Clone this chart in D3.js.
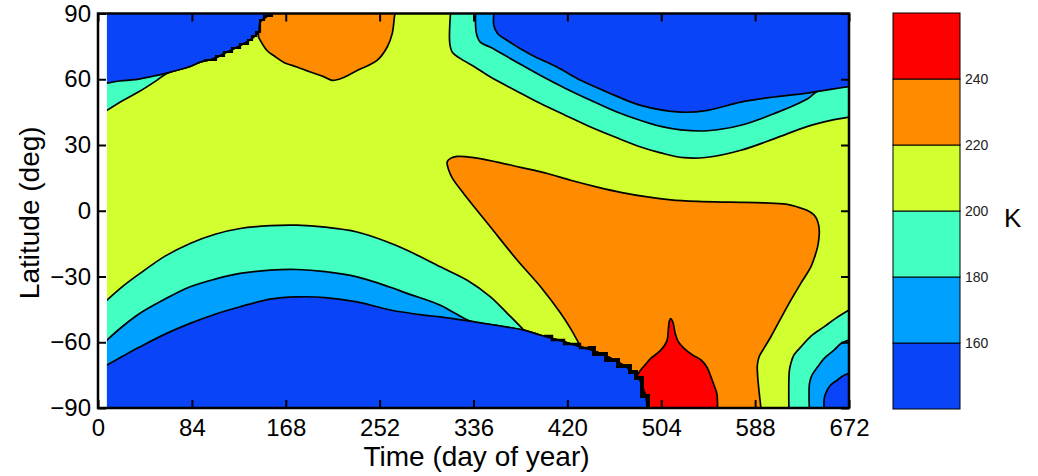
<!DOCTYPE html>
<html>
<head>
<meta charset="utf-8">
<script src="https://cdn.jsdelivr.net/npm/d3@7"></script>
<style>
body { margin: 0; background: #fff; }
svg text { font-family: "Liberation Sans", Arial, Helvetica, sans-serif; }
</style>
</head>
<body>
<div id="chart"></div>
<script>
// temperature levels (K), one colour per band between two levels
var levels = [140, 160, 180, 200, 220, 240, 260];
var bandColors = ["#0a44f8", "#00a0ff", "#44ffc2", "#d2ff30", "#ff8c00", "#ff0000"];
var dayTicks = [0, 84, 168, 252, 336, 420, 504, 588, 672];
var latTicks = [-90, -60, -30, 0, 30, 60, 90];
var cbarTicks = [160, 180, 200, 220, 240];
var firstDay = 8;

// contour lines, as [day, latitude]
var n160West = [[8,58.2],[19.7,59.2],[33.2,59.8],[46.6,61.1],[61.6,62.8],[82.4,65.8],[91.4,67.8],[103.3,69.4],[115.3,72.4],[130.2,76.2],[139.2,79.2],[143.6,81.5],[145.2,86],[152.6,89.1],[155.9,90]];
var n200West = [[8,45.8],[22.7,50.4],[37.6,54.6],[52.6,59.5],[61.6,62.6]];
var northWarm = [[143.6,79.2],[151.2,73.1],[158,70.5],[166,67.8],[178,65.6],[190,63.3],[201.9,61.2],[209.4,59.5],[219.8,60.8],[231.8,64],[249.7,68.6],[258.7,74.6],[263.2,80.7],[265.2,88.3],[265.7,90]];
var n200East = [[315.4,90],[314.8,76.2],[317.2,72.2],[324.4,69.4],[337.8,65.4],[351.2,61],[373.6,54.9],[396,48.9],[418.4,43.5],[440.8,38.2],[463.2,33.5],[485.6,29.1],[503.6,26.4],[524.2,24.2],[545.4,24.4],[575.2,27.6],[604.8,32.8],[635,38.5],[655.6,41.2],[672,42.7]];
var n180East = [[337.8,90],[338.7,80.7],[342.3,76.8],[351.2,74.6],[373.6,68.1],[396,61.7],[418.4,55.8],[440.8,50.4],[463.2,45.3],[485.6,41.2],[503.6,38.5],[521.5,36.9],[545.4,36.5],[575.2,39],[605,44.3],[635,51.1],[644,54.5],[672,56.7]];
var n160East = [[354.2,90],[354.2,84.5],[357.5,80.9],[366.2,77.7],[387.1,71.3],[411,65.5],[431.9,59.5],[455.8,54.1],[485.6,48.1],[521.5,45],[545.4,45.8],[575.2,49.6],[605,51.9],[635,53.7],[644,54.5],[672,56.7]];
var s160West = [[8,-70.4],[22.4,-66.3],[37.6,-62.1],[60,-56.3],[82.4,-51.4],[104.8,-47.2],[127.2,-43.8],[154.1,-40.3],[178,-39.3],[203.4,-39.6],[231.8,-41.6],[261.6,-45.3],[291.5,-47.6],[306.4,-48.4],[333.3,-50.4],[360.2,-52.6],[381.1,-54.5],[396,-56.8],[413.9,-59.3],[431.9,-62.1],[449.8,-65.1],[464.8,-68.9],[476.7,-72.7],[484.1,-76.5],[487.2,-80.3],[490.1,-84.9],[491.6,-90]];
var s180West = [[8,-59],[22.4,-52.6],[37.6,-46.8],[60,-40.3],[82.4,-34.7],[104.8,-31.2],[127.2,-28.6],[154.1,-27.1],[178,-26.8],[203.4,-27.8],[231.8,-30.2],[261.6,-34.9],[276.6,-37.7],[306.4,-43.1],[319.9,-46.9],[333.3,-50.4]];
var s200West = [[8,-40.8],[22.4,-34.4],[37.6,-28.6],[60,-20.7],[82.4,-14.9],[104.8,-10.7],[127.2,-8.1],[154.1,-6.8],[178,-6.6],[203.4,-7.5],[231.8,-9.7],[257.3,-13.9],[276.6,-18],[306.4,-25.6],[330.4,-31.7],[351.2,-39.3],[366.2,-46.8],[379.6,-53.7]];
var southWarm = [[431.9,-62.1],[422.9,-53.8],[414,-46.8],[396,-34.7],[375.2,-22.6],[351.2,-7.4],[327.3,7.8],[317.2,14.8],[313.9,18.5],[312.4,22.2],[315.4,23.9],[321.4,24.8],[337.8,24.1],[357.2,22.2],[378.1,19.8],[402.1,17],[422.9,13.9],[446.8,10.8],[467.7,8.4],[491.6,6.3],[512.5,5],[536.4,4.3],[566.3,3.9],[596.1,3.6],[615.6,3],[626,1.7],[634.4,0.2],[640.9,-2],[644.2,-5.2],[645.4,-8.9],[645.1,-12.5],[643.9,-16.5],[641.5,-20.7],[637.9,-25.6],[629,-33],[620,-40.8],[611.1,-49],[602.1,-57.5],[594.9,-63.6],[591.6,-66.6],[590,-70.4],[590.2,-75],[591.4,-81.8],[593.2,-90]];
var southHot = [[482.7,-75],[485.6,-72.7],[490.1,-70],[494.6,-67.4],[503.6,-63.6],[509,-59.5],[510.3,-54.5],[511.2,-50.4],[512.5,-49.2],[514.5,-51],[516.5,-56],[519,-59.5],[524.4,-62.8],[532,-65.8],[539.6,-68.1],[545,-71.5],[548.4,-75.7],[551.5,-80],[553.7,-83.3],[554.4,-90]];
var s200East = [[672,-45.3],[660.4,-49],[649.6,-53],[638,-57.2],[629,-62.1],[622.7,-65.8],[620,-69.6],[618.7,-72.7],[618.2,-77.2],[618.2,-90]];
var s180East = [[672,-59],[664.8,-60.6],[658.6,-63.6],[650.5,-67],[644,-71.2],[638.9,-75],[636.7,-78.7],[636.5,-90]];
var s160East = [[672,-74.2],[666.4,-75.4],[661.7,-77.2],[655.6,-79.5],[652.5,-81.8],[649.9,-85.4],[649.7,-90]];

var width = 1038, height = 476;

var x = d3.scaleLinear().domain([0, 672]).range([98, 849]);
var y = d3.scaleLinear().domain([-90, 90]).range([408, 13.5]);
var cy = d3.scaleLinear().domain([140, 260]).range([409, 13]);

var svg = d3.select("#chart").append("svg")
	.attr("width", width)
	.attr("height", height);

svg.append("clipPath").attr("id", "plotclip")
	.append("rect")
	.attr("x", x(firstDay))
	.attr("y", y(90))
	.attr("width", x(672) - x(firstDay))
	.attr("height", y(-90) - y(90));

var plot = svg.append("g").attr("clip-path", "url(#plotclip)");

var bandColor = function (lo) {
	return bandColors[levels.indexOf(lo)];
};

var line = d3.line()
	.x(function (d) { return x(d[0]); })
	.y(function (d) { return y(d[1]); })
	.curve(d3.curveCatmullRom.alpha(0.5));

// a filled band: the contour itself, then closed outside the clip
function region(pts, outside, lo) {
	var d = line(pts) + outside.map(function (p) {
		return "L" + x(p[0]) + "," + y(p[1]);
	}).join("") + "Z";
	return plot.append("path")
		.attr("d", d)
		.attr("fill", bandColor(lo))
		.attr("stroke", "#000")
		.attr("stroke-width", 1.7)
		.attr("stroke-linejoin", "round");
}

function after(pts, day) {
	return pts.filter(function (d) { return d[0] > day; });
}

// background band 200-220 K
plot.append("rect")
	.attr("x", x(firstDay)).attr("y", y(90))
	.attr("width", x(672) - x(firstDay)).attr("height", y(-90) - y(90))
	.attr("fill", bandColor(200));

region(southWarm, [[593.2, -96], [480, -96]], 220);
region(southHot, [[554.4, -96], [488, -96]], 240);

region(s200West.concat(after(s160West, 379.6)), [[495, -96], [-5, -96], [-5, -40.8]], 180);
region(s180West.concat(after(s160West, 333.3)), [[495, -96], [-5, -96], [-5, -59]], 160);
var southCap = region(s160West, [[495, -96], [-5, -96], [-5, -70.4]], 140);

region(n200West.concat(after(n160West, 61.6)), [[160, 96], [-5, 96], [-5, 45.8]], 180);
region(northWarm, [[266, 96], [143, 96]], 220);
var northCap = region(n160West, [[160, 96], [-5, 96], [-5, 58.2]], 140);

region(n200East, [[680, 42.7], [680, 96], [310, 96]], 180);
region(n180East, [[680, 56.7], [680, 96], [330, 96]], 160);
region(n160East, [[680, 56.7], [680, 96], [350, 96]], 140);

region(s200East, [[618.2, -96], [680, -96], [680, -45.3]], 180);
region(s180East, [[636.5, -96], [680, -96], [680, -59]], 160);
region(s160East, [[649.7, -96], [680, -96], [680, -74.2]], 140);

// jagged cap edge where the grid shows through
function frostSteps(node, d0, d1, cell, w) {
	var len = node.getTotalLength(), pts = [], last = "";
	for (var s = 0; s <= len; s += 0.5) {
		var p = node.getPointAtLength(s);
		if (p.x < x(d0) || p.x > x(d1) || p.y < y(90) - 1 || p.y > y(-90) + 1) continue;
		var q = [Math.round(p.x / cell) * cell, Math.round(p.y / cell) * cell];
		var k = q.join(",");
		if (k !== last) { pts.push(q); last = k; }
	}
	plot.append("path")
		.attr("d", d3.line().curve(d3.curveStepAfter)(pts))
		.attr("fill", "none")
		.attr("stroke", "#000")
		.attr("stroke-width", w);
}
frostSteps(northCap.node(), 95, 157, 4, 2.2);
frostSteps(southCap.node(), 400, 440, 4, 2.5);
frostSteps(southCap.node(), 440, 493, 6, 4);

// axes
function styleAxis(g) {
	g.select(".domain").remove();
	g.selectAll(".tick line").attr("stroke", "#000").attr("stroke-width", 2);
	g.selectAll(".tick text").attr("fill", "#000").style("font-size", "24px");
}

svg.append("g")
	.attr("transform", "translate(0," + y(-90) + ")")
	.call(d3.axisBottom(x).tickValues(dayTicks).tickSize(-8).tickSizeOuter(0).tickPadding(11))
	.call(styleAxis);
svg.append("g")
	.attr("transform", "translate(0," + y(90) + ")")
	.call(d3.axisTop(x).tickValues(dayTicks).tickSize(-8).tickSizeOuter(0).tickFormat(""))
	.call(styleAxis);
svg.append("g")
	.attr("transform", "translate(" + x(0) + ",0)")
	.call(d3.axisLeft(y).tickValues(latTicks).tickSize(-8).tickSizeOuter(0).tickPadding(7))
	.call(styleAxis);
svg.append("g")
	.attr("transform", "translate(" + x(672) + ",0)")
	.call(d3.axisRight(y).tickValues(latTicks).tickSize(-8).tickSizeOuter(0).tickFormat(""))
	.call(styleAxis);

svg.append("rect")
	.attr("x", x(0)).attr("y", y(90))
	.attr("width", x(672) - x(0)).attr("height", y(-90) - y(90))
	.attr("fill", "none")
	.attr("stroke", "#000")
	.attr("stroke-width", 2.5);

svg.append("text")
	.attr("x", (x(0) + x(672)) / 2 + 3)
	.attr("y", 466)
	.attr("text-anchor", "middle")
	.style("font-size", "28px")
	.text("Time (day of year)");

svg.append("text")
	.attr("transform", "translate(39," + (y(0) + 2) + ") rotate(-90)")
	.attr("text-anchor", "middle")
	.style("font-size", "28px")
	.text("Latitude (deg)");

// colour bar
var cbar = svg.append("g");
cbar.selectAll("rect")
	.data(levels.slice(0, -1))
	.enter()
	.append("rect")
	.attr("x", 893)
	.attr("width", 67)
	.attr("y", function (d, i) { return cy(levels[i + 1]); })
	.attr("height", function (d, i) { return cy(d) - cy(levels[i + 1]); })
	.attr("fill", function (d) { return bandColor(d); })
	.attr("stroke", "#000")
	.attr("stroke-width", 1);

cbar.selectAll("text")
	.data(cbarTicks)
	.enter()
	.append("text")
	.attr("x", 965)
	.attr("y", function (d) { return cy(d); })
	.attr("dy", "0.36em")
	.attr("fill", "#222")
	.style("font-size", "14px")
	.text(function (d) { return d; });

svg.append("text")
	.attr("x", 1004)
	.attr("y", 227)
	.style("font-size", "26px")
	.text("K");
</script>
</body>
</html>
